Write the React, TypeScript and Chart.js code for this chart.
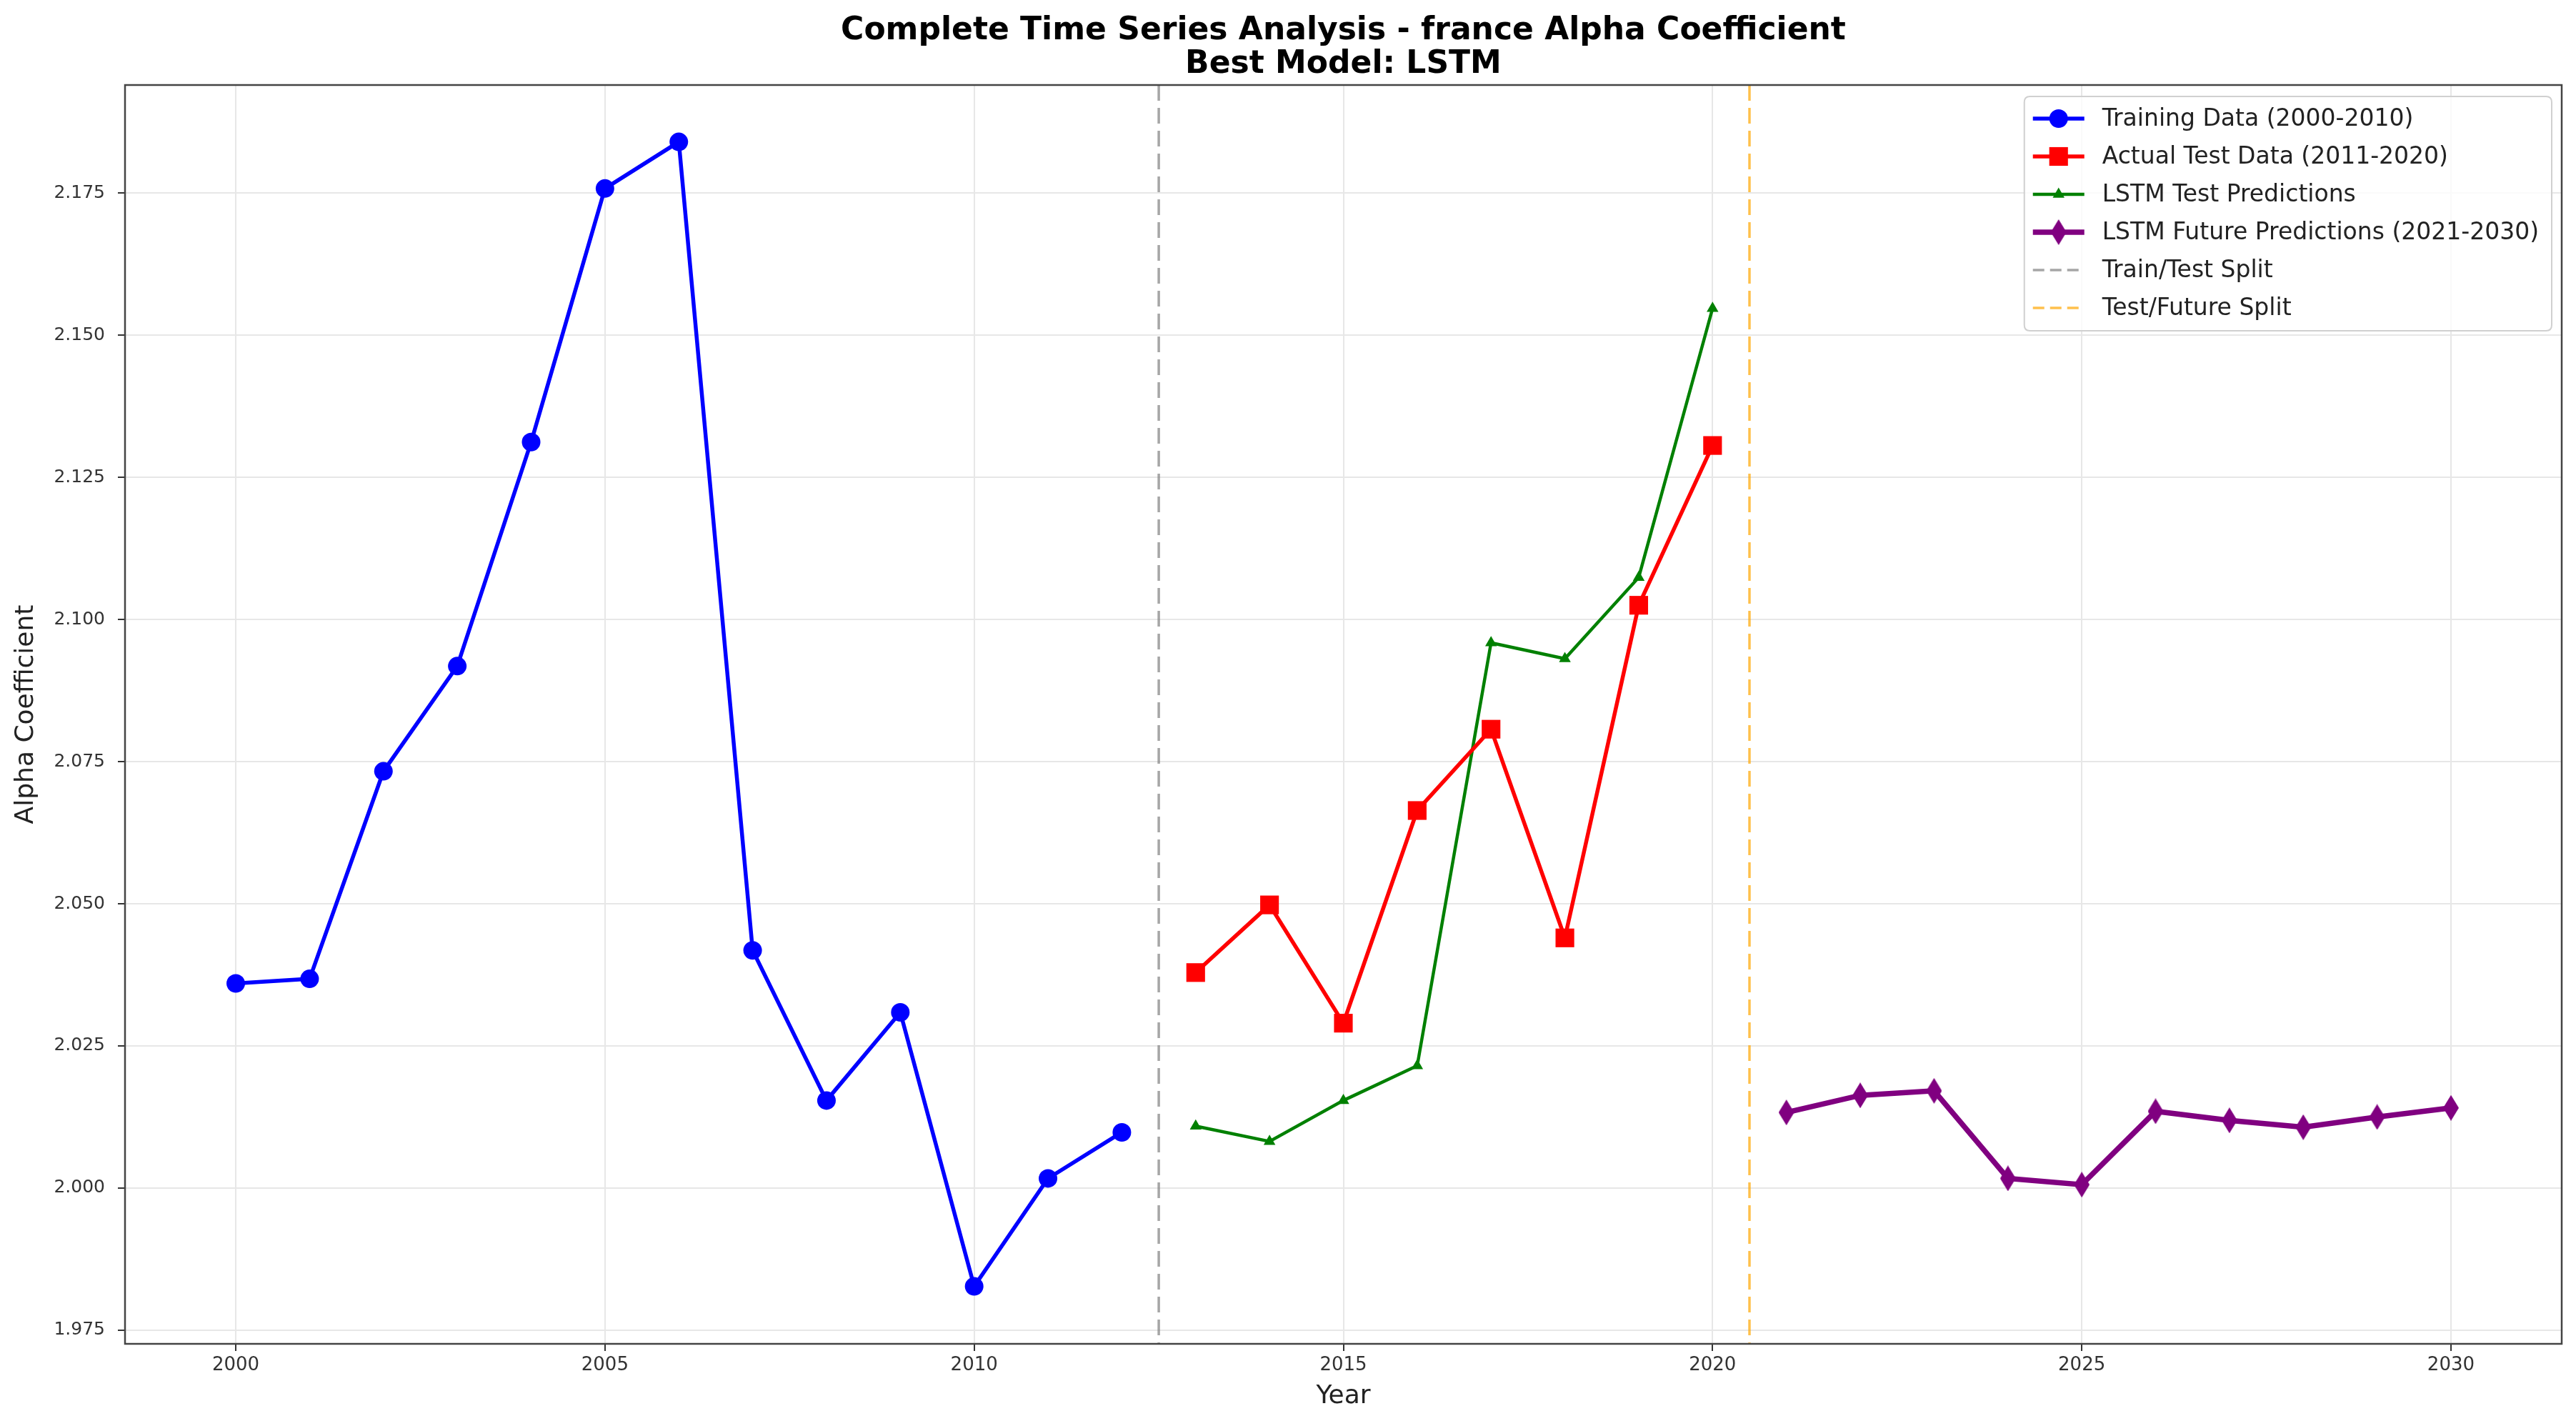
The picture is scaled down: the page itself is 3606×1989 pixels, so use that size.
import React, { useEffect, useRef } from 'react';
import { Chart, registerables } from 'chart.js';

Chart.register(...registerables);

const FONT = "'DejaVu Sans', 'Liberation Sans', sans-serif";

const titleLines = ['Complete Time Series Analysis - france Alpha Coefficient', 'Best Model: LSTM'];
const xAxisTitle = 'Year';
const yAxisTitle = 'Alpha Coefficient';

const trainYears = [2000, 2001, 2002, 2003, 2004, 2005, 2006, 2007, 2008, 2009, 2010, 2011, 2012];
const trainValues = [2.0360, 2.0368, 2.0733, 2.0918, 2.1312, 2.1758, 2.1840, 2.0418, 2.0154, 2.0309, 1.9827, 2.0017, 2.0098];

const testYears = [2013, 2014, 2015, 2016, 2017, 2018, 2019, 2020];
const actualTestValues = [2.0379, 2.0498, 2.0290, 2.0664, 2.0807, 2.0440, 2.1025, 2.1306];
const lstmTestValues = [2.0109, 2.0082, 2.0154, 2.0215, 2.0959, 2.0931, 2.1074, 2.1547];

const futureYears = [2021, 2022, 2023, 2024, 2025, 2026, 2027, 2028, 2029, 2030];
const futureValues = [2.0133, 2.0163, 2.0171, 2.0017, 2.0006, 2.0135, 2.0119, 2.0107, 2.0125, 2.0141];

const seriesLabels = [
  'Training Data (2000-2010)',
  'Actual Test Data (2011-2020)',
  'LSTM Test Predictions',
  'LSTM Future Predictions (2021-2030)',
];

const splitYears = [2012.5, 2020.5];
const splitLabels = ['Train/Test Split', 'Test/Future Split'];
const splitColors = ['rgba(128,128,128,0.7)', 'rgba(255,165,0,0.7)'];

const xTicks = [2000, 2005, 2010, 2015, 2020, 2025, 2030];
const yTicks = [1.975, 2.0, 2.025, 2.05, 2.075, 2.1, 2.125, 2.15, 2.175];
const xRange = [1998.5, 2031.5];
const yRange = [1.9726, 2.194];

function toPoints(xs: number[], ys: number[]) {
  return xs.map((x, i) => ({ x, y: ys[i] }));
}

function makeThinDiamond(w: number, h: number, color: string) {
  const c = document.createElement('canvas');
  c.width = w;
  c.height = h;
  const g = c.getContext('2d')!;
  g.fillStyle = color;
  g.beginPath();
  g.moveTo(w / 2, 0);
  g.lineTo(w, h / 2);
  g.lineTo(w / 2, h);
  g.lineTo(0, h / 2);
  g.closePath();
  g.fill();
  return c;
}

function drawMarker(ctx: CanvasRenderingContext2D, style: any, x: number, y: number, r: number, color: string) {
  ctx.save();
  ctx.fillStyle = color;
  ctx.strokeStyle = color;
  if (style instanceof HTMLCanvasElement) {
    ctx.drawImage(style, x - style.width / 2, y - style.height / 2);
  } else if (style === 'circle') {
    ctx.beginPath();
    ctx.arc(x, y, r, 0, Math.PI * 2);
    ctx.fill();
  } else if (style === 'rect') {
    const s = Math.SQRT1_2 * r;
    ctx.fillRect(x - s, y - s, 2 * s, 2 * s);
  } else if (style === 'triangle') {
    ctx.beginPath();
    let rad = 0;
    ctx.moveTo(x + Math.sin(rad) * r, y - Math.cos(rad) * r);
    rad += (2 * Math.PI) / 3;
    ctx.lineTo(x + Math.sin(rad) * r, y - Math.cos(rad) * r);
    rad += (2 * Math.PI) / 3;
    ctx.lineTo(x + Math.sin(rad) * r, y - Math.cos(rad) * r);
    ctx.closePath();
    ctx.fill();
  }
  ctx.restore();
}

const decorPlugin = {
  id: 'decor',
  beforeDatasetsDraw(chart: any) {
    const { ctx, chartArea, scales } = chart;
    ctx.save();
    ctx.beginPath();
    ctx.rect(chartArea.left, chartArea.top, chartArea.right - chartArea.left, chartArea.bottom - chartArea.top);
    ctx.clip();
    splitYears.forEach((yr, i) => {
      const px = scales.x.getPixelForValue(yr);
      ctx.strokeStyle = splitColors[i];
      ctx.lineWidth = 3.5;
      ctx.setLineDash([22, 10]);
      ctx.beginPath();
      ctx.moveTo(px, chartArea.top);
      ctx.lineTo(px, chartArea.bottom);
      ctx.stroke();
    });
    ctx.restore();
  },
  afterDatasetsDraw(chart: any) {
    const { ctx, chartArea } = chart;
    ctx.save();
    ctx.strokeStyle = '#444';
    ctx.lineWidth = 2.5;
    ctx.strokeRect(chartArea.left, chartArea.top, chartArea.right - chartArea.left, chartArea.bottom - chartArea.top);
    ctx.restore();
  },
  afterDraw(chart: any) {
    const { ctx, chartArea } = chart;
    // Title
    ctx.save();
    ctx.fillStyle = '#000';
    ctx.font = `bold 44px ${FONT}`;
    ctx.textAlign = 'center';
    ctx.textBaseline = 'alphabetic';
    const cx = (chartArea.left + chartArea.right) / 2;
    ctx.fillText(titleLines[0], cx, 55);
    ctx.fillText(titleLines[1], cx, 102);
    ctx.restore();

    // Legend
    const fontSize = 33;
    ctx.save();
    ctx.font = `${fontSize}px ${FONT}`;
    const datasets = chart.data.datasets;
    const entries: any[] = datasets.map((d: any) => ({
      label: d.label,
      color: d.borderColor,
      width: d.borderWidth,
      style: d.pointStyle,
      radius: d.pointRadius,
      dash: null,
    }));
    splitLabels.forEach((lab, i) => {
      entries.push({ label: lab, color: splitColors[i], width: 3.5, style: null, radius: 0, dash: [16, 8] });
    });
    const maxText = Math.max(...entries.map((e) => ctx.measureText(e.label).width));
    const padL = 12, sample = 72, gap = 25, padR = 18, rowH = 53, padT = 31, padB = 32;
    const w = padL + sample + gap + maxText + padR;
    const h = padT + rowH * (entries.length - 1) + padB;
    const right = chartArea.right - 14;
    const left = right - w;
    const top = chartArea.top + 16;
    // box
    const rr = 8;
    ctx.beginPath();
    ctx.moveTo(left + rr, top);
    ctx.lineTo(left + w - rr, top);
    ctx.quadraticCurveTo(left + w, top, left + w, top + rr);
    ctx.lineTo(left + w, top + h - rr);
    ctx.quadraticCurveTo(left + w, top + h, left + w - rr, top + h);
    ctx.lineTo(left + rr, top + h);
    ctx.quadraticCurveTo(left, top + h, left, top + h - rr);
    ctx.lineTo(left, top + rr);
    ctx.quadraticCurveTo(left, top, left + rr, top);
    ctx.closePath();
    ctx.fillStyle = 'rgba(255,255,255,0.8)';
    ctx.fill();
    ctx.strokeStyle = '#d0d0d0';
    ctx.lineWidth = 2;
    ctx.stroke();

    entries.forEach((e, i) => {
      const y = top + padT + i * rowH;
      const x0 = left + padL;
      ctx.save();
      ctx.strokeStyle = e.color;
      ctx.lineWidth = e.width;
      if (e.dash) ctx.setLineDash(e.dash);
      ctx.beginPath();
      ctx.moveTo(x0, y);
      ctx.lineTo(x0 + sample, y);
      ctx.stroke();
      ctx.restore();
      if (e.style) drawMarker(ctx, e.style, x0 + sample / 2, y, e.radius, e.color);
      ctx.fillStyle = '#222';
      ctx.textAlign = 'left';
      ctx.textBaseline = 'middle';
      ctx.fillText(e.label, x0 + sample + gap, y + 1);
    });
    ctx.restore();
  },
};

export default function App() {
  const canvasRef = useRef<HTMLCanvasElement | null>(null);

  useEffect(() => {
    document.body.style.margin = '0';
    const canvas = canvasRef.current;
    if (!canvas) return;
    const diamond = makeThinDiamond(22, 36, '#800080');

    const chart = new Chart(canvas, {
      type: 'line',
      data: {
        datasets: [
          {
            label: seriesLabels[0],
            data: toPoints(trainYears, trainValues),
            borderColor: '#0000ff',
            backgroundColor: '#0000ff',
            borderWidth: 5.5,
            pointStyle: 'circle',
            pointRadius: 13,
            pointBorderWidth: 0,
          },
          {
            label: seriesLabels[1],
            data: toPoints(testYears, actualTestValues),
            borderColor: '#ff0000',
            backgroundColor: '#ff0000',
            borderWidth: 5.5,
            pointStyle: 'rect',
            pointRadius: 18.5,
            pointBorderWidth: 0,
          },
          {
            label: seriesLabels[2],
            data: toPoints(testYears, lstmTestValues),
            borderColor: '#008000',
            backgroundColor: '#008000',
            borderWidth: 4.5,
            pointStyle: 'triangle',
            pointRadius: 9.5,
            pointBorderWidth: 0,
          },
          {
            label: seriesLabels[3],
            data: toPoints(futureYears, futureValues),
            borderColor: '#800080',
            backgroundColor: '#800080',
            borderWidth: 7.5,
            pointStyle: diamond as any,
            pointRadius: 18,
            pointBorderWidth: 0,
          },
        ] as any,
      },
      options: {
        animation: false,
        responsive: false,
        devicePixelRatio: 1,
        parsing: false as any,
        layout: { padding: { top: 119, right: 20, left: 0, bottom: 0 } },
        plugins: {
          legend: { display: false },
          title: { display: false },
          tooltip: { enabled: false },
        },
        elements: { line: { tension: 0 } },
        scales: {
          x: {
            type: 'linear',
            min: xRange[0],
            max: xRange[1],
            afterFit: (s: any) => {
              s.height = 108;
            },
            afterBuildTicks: (s: any) => {
              s.ticks = xTicks.map((v) => ({ value: v }));
            },
            ticks: {
              font: { family: FONT, size: 26 },
              color: '#333',
              padding: 5,
              maxRotation: 0,
              autoSkip: false,
              callback: (v: any) => String(v),
            },
            grid: { color: '#e7e7e7', lineWidth: 2, tickLength: 10, tickColor: '#333', tickWidth: 2 },
            border: { display: false },
            title: {
              display: true,
              text: xAxisTitle,
              font: { family: FONT, size: 36 },
              color: '#222',
              padding: { top: 0, bottom: 13 },
            },
          },
          y: {
            type: 'linear',
            min: yRange[0],
            max: yRange[1],
            afterFit: (s: any) => {
              s.width = 175;
            },
            afterBuildTicks: (s: any) => {
              s.ticks = yTicks.map((v) => ({ value: v }));
            },
            ticks: {
              font: { family: FONT, size: 25 },
              color: '#333',
              padding: 18,
              autoSkip: false,
              callback: (v: any) => Number(v).toFixed(3),
            },
            grid: { color: '#e7e7e7', lineWidth: 2, tickLength: 10, tickColor: '#333', tickWidth: 2 },
            border: { display: false },
            title: {
              display: true,
              text: yAxisTitle,
              font: { family: FONT, size: 36 },
              color: '#222',
              padding: { top: 15, bottom: 0 },
            },
          },
        },
      } as any,
      plugins: [decorPlugin],
    });

    return () => {
      chart.destroy();
    };
  }, []);

  return (
    <div style={{ width: 3606, height: 1989, background: '#fff' }}>
      <canvas ref={canvasRef} width={3606} height={1989} style={{ display: 'block' }} />
    </div>
  );
}
